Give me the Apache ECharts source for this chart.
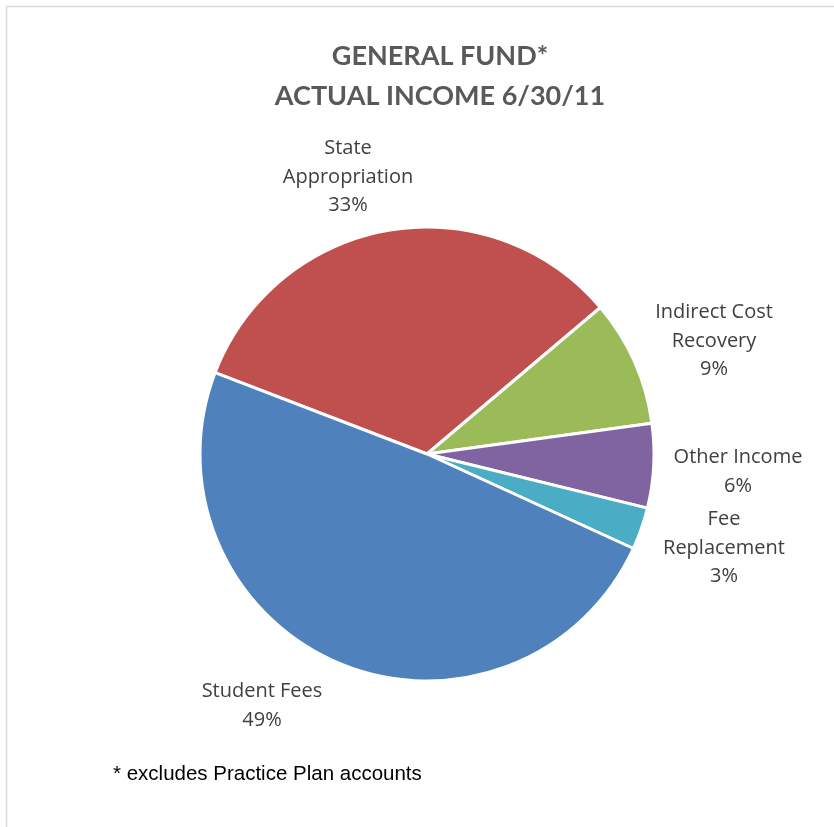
<!DOCTYPE html>
<html>
<head>
<meta charset="utf-8">
<title>General Fund Actual Income</title>
<script src="https://cdn.jsdelivr.net/npm/echarts@6/dist/echarts.min.js"></script>
<style>
  html, body { margin: 0; padding: 0; background: #fff; }
  #chart { width: 834px; height: 827px; }
</style>
</head>
<body>
<div id="chart"></div>
<script>
// Income sources, in clockwise drawing order
const categories = ['State\nAppropriation', 'Indirect Cost\nRecovery', 'Other Income', 'Fee\nReplacement', 'Student Fees'];
const percents = [33, 9, 6, 3, 49];
const colors = ['#C0504D', '#9BBB59', '#8064A2', '#4BACC6', '#4F81BD'];

// Where each data label sits (centre of the text block)
const labelCentres = [[348, 177], [714, 341], [738, 472], [724, 548], [262, 706]];

const chart = echarts.init(document.getElementById('chart'), null, { renderer: 'canvas' });

chart.setOption({
  animation: false,
  backgroundColor: '#ffffff',
  graphic: [
    { type: 'polyline', shape: { points: [[6.5, 827], [6.5, 6.5], [834, 6.5]] },
      style: { stroke: '#d9d9d9', lineWidth: 1.5, fill: null } },
    { type: 'text', x: 113, y: 774,
      style: { text: '* excludes Practice Plan accounts', font: '20.5px "Liberation Sans", Arial, sans-serif',
               fill: '#000000', verticalAlign: 'middle' } }
  ],
  title: {
    text: 'GENERAL FUND*\nACTUAL INCOME 6/30/11',
    left: 435, top: 31, textAlign: 'center',
    textStyle: { fontFamily: 'Lato', fontWeight: 'bold', fontSize: 27, color: '#595959', lineHeight: 40 }
  },
  series: [{
    type: 'pie',
    center: [427, 454],
    radius: 227,
    startAngle: 159,
    clockwise: true,
    data: categories.map((name, i) => ({ name, value: percents[i], itemStyle: { color: colors[i] } })),
    itemStyle: { borderColor: '#ffffff', borderWidth: 3 },
    label: {
      show: true,
      position: 'outside',
      formatter: p => p.name + '\n' + p.value + '%',
      fontFamily: 'Open Sans',
      fontSize: 20,
      lineHeight: 28.5,
      color: '#404040',
      align: 'center',
      overflow: 'none'
    },
    labelLine: { show: false },
    labelLayout: p => ({
      x: labelCentres[p.dataIndex][0],
      y: labelCentres[p.dataIndex][1],
      align: 'center',
      verticalAlign: 'middle'
    })
  }]
});
</script>
</body>
</html>
